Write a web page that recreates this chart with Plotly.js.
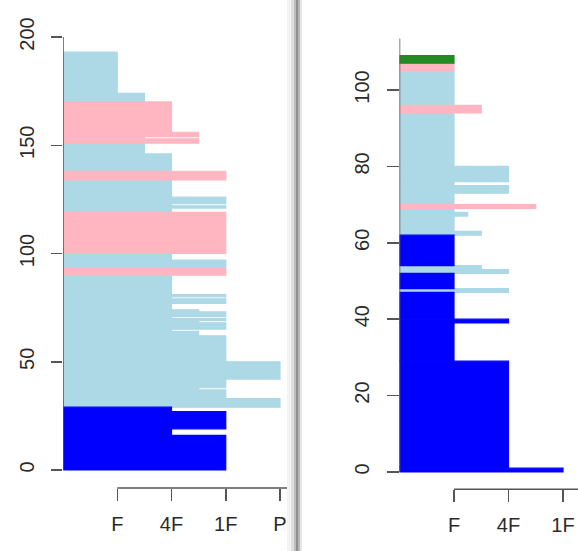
<!DOCTYPE html>
<html>
<head>
<meta charset="utf-8">
<script src="https://cdn.plot.ly/plotly-3.0.1.min.js"></script>
<style>html,body{margin:0;padding:0;background:#fff;}#chart{width:578px;height:551px;}</style>
</head>
<body>
<div id="chart"></div>
<script>
// ---- data: row blocks (lo..hi), level reached on the x scale, group ----
const leftLo    = [0,16,19,27,29,33,37,38,42,50,62,64,65,68,69,70,71,73,74,77,79,80,81,90,93,97,100,119,121,122,123,126,134,138,146,151,153,154,156,170,174];
const leftHi    = [16,19,27,29,33,37,38,42,50,62,64,65,68,69,70,71,73,74,77,79,80,81,90,93,97,100,119,121,122,123,126,134,138,146,151,153,154,156,170,174,193];
const leftLevel = [3,2,3,2,4,3,2.5,3,4,3,2.5,2,3,2.5,3,2,3,2.5,2,3,2,3,2,3,3,2,3,2,3,2,3,2,3,2,1.5,2.5,1.5,2.5,2,1.5,1];
const leftGroup = ['A','A','A','A','B','B','B','B','B','B','B','B','B','B','B','B','B','B','B','B','B','B','B','C','B','B','C','B','B','B','B','B','C','B','B','C','B','C','C','B','B'];

const rightLo    = [0,1,29,39,40,47,48,52,53,54,62,63,67,68,69,70,73,75,76,80,94,96,105,107];
const rightHi    = [1,29,39,40,47,48,52,53,54,62,63,67,68,69,70,73,75,76,80,94,96,105,107,109];
const rightLevel = [3,2,1,2,1,2,1,2,1.5,1,1.5,1,1.25,1,2.5,1,2,1,2,1,1.5,1,1,1];
const rightGroup = ['A','A','A','A','A','B','A','B','B','A','B','B','B','B','C','B','B','B','B','B','C','B','C','D'];

const leftXTickVals  = [1,2,3,4];
const leftXTickText  = ['F','4F','1F','P'];
const rightXTickVals = [1,2,3];
const rightXTickText = ['F','4F','1F'];
const leftYTicks  = [0,50,100,150,200];
const rightYTicks = [0,20,40,60,80,100];

// ---- styles ----
const groupColors = {A:'#0000FF', B:'#ADD8E6', C:'#FFB6C1', D:'#228B22'};
const W = 578, H = 551;
const px = x => x / W;
const py = y => 1 - y / H;

function buildTraces(lo, hi, level, group, xa, ya) {
  const out = [];
  ['B','A','C','D'].forEach(g => {
    const xs = [], ys = [], ws = [];
    for (let i = 0; i < lo.length; i++) {
      if (group[i] !== g) continue;
      xs.push(level[i]);
      ys.push((lo[i] + hi[i]) / 2);
      ws.push(hi[i] - lo[i]);
    }
    if (!xs.length) return;
    out.push({
      type: 'bar', orientation: 'h', x: xs, y: ys, width: ws, base: 0,
      xaxis: xa, yaxis: ya,
      marker: {color: groupColors[g], line: {width: 1.2, color: groupColors[g]}},
      hoverinfo: 'skip', showlegend: false
    });
  });
  return out;
}

const traces = [].concat(
  buildTraces(leftLo, leftHi, leftLevel, leftGroup, 'x', 'y'),
  buildTraces(rightLo, rightHi, rightLevel, rightGroup, 'x2', 'y2')
);

// pixel geometry
const L = {x0: 63, ux: 54.25, xEnd: 297, y0: 470, uy: 2.165, axisY: 488, top: 30};
const R = {x0: 399.5, ux: 54.5, xEnd: 578, y0: 472, uy: 3.82, axisY: 489.3, top: 30};

const tickFont = {family: 'Liberation Sans, Arial, sans-serif', size: 20, color: '#2a2a2a'};
const axCommon = {showgrid: false, zeroline: false, showline: false, ticks: 'outside',
  tickcolor: '#555', tickwidth: 1.5, tickfont: tickFont, fixedrange: true};

const layout = {
  width: W, height: H,
  margin: {l: 0, r: 0, t: 0, b: 0},
  paper_bgcolor: '#ffffff', plot_bgcolor: 'rgba(0,0,0,0)',
  barmode: 'overlay', showlegend: false,
  xaxis: Object.assign({}, axCommon, {
    domain: [px(L.x0), px(L.xEnd)], range: [0, (L.xEnd - L.x0) / L.ux], anchor: 'y',
    tickmode: 'array', tickvals: leftXTickVals, ticktext: leftXTickText, ticklen: 12, ticklabelstandoff: 6
  }),
  yaxis: Object.assign({}, axCommon, {
    domain: [py(L.axisY), py(L.top)], range: [(L.y0 - L.axisY) / L.uy, (L.y0 - L.top) / L.uy], anchor: 'x',
    tickmode: 'array', tickvals: leftYTicks, tickangle: -90, ticklen: 11, ticklabelstandoff: 9
  }),
  xaxis2: Object.assign({}, axCommon, {
    domain: [px(R.x0), 1], range: [0, (R.xEnd - R.x0) / R.ux], anchor: 'y2',
    tickmode: 'array', tickvals: rightXTickVals, ticktext: rightXTickText, ticklen: 12, ticklabelstandoff: 6
  }),
  yaxis2: Object.assign({}, axCommon, {
    domain: [py(R.axisY), py(R.top)], range: [(R.y0 - R.axisY) / R.uy, (R.y0 - R.top) / R.uy], anchor: 'x2',
    tickmode: 'array', tickvals: rightYTicks, tickangle: -90, ticklen: 12, ticklabelstandoff: 10
  }),
  shapes: [
    // axis lines (drawn from first tick like base R)
    {type: 'line', xref: 'x', yref: 'paper', x0: 1, x1: (L.xEnd - L.x0) / L.ux, y0: py(L.axisY), y1: py(L.axisY), line: {color: '#555', width: 1.5}},
    {type: 'line', xref: 'x', yref: 'y', x0: 0, x1: 0, y0: 0, y1: 200, line: {color: '#555', width: 1.5}},
    {type: 'line', xref: 'x2', yref: 'paper', x0: 1, x1: (R.xEnd - R.x0) / R.ux, y0: py(R.axisY), y1: py(R.axisY), line: {color: '#555', width: 1.5}},
    {type: 'line', xref: 'x2', yref: 'y2', x0: 0, x1: 0, y0: 0, y1: 113.5, line: {color: '#555', width: 1.5}},
    // separator shading between the two pictures
    {type: 'rect', xref: 'paper', yref: 'paper', x0: px(287), x1: px(291), y0: 0, y1: 1, line: {width: 0}, fillcolor: '#f3f3f3'},
    {type: 'rect', xref: 'paper', yref: 'paper', x0: px(291), x1: px(294), y0: 0, y1: 1, line: {width: 0}, fillcolor: '#dedede'},
    {type: 'rect', xref: 'paper', yref: 'paper', x0: px(294), x1: px(296), y0: 0, y1: 1, line: {width: 0}, fillcolor: '#bdbdbd'},
    {type: 'rect', xref: 'paper', yref: 'paper', x0: px(296), x1: px(298), y0: 0, y1: 1, line: {width: 0}, fillcolor: '#8f8f8f'},
    {type: 'rect', xref: 'paper', yref: 'paper', x0: px(298), x1: px(300), y0: 0, y1: 1, line: {width: 0}, fillcolor: '#b5b5b5'},
    {type: 'rect', xref: 'paper', yref: 'paper', x0: px(300), x1: px(302), y0: 0, y1: 1, line: {width: 0}, fillcolor: '#e6e6e6'}
  ]
};

Plotly.newPlot('chart', traces, layout, {staticPlot: true, displayModeBar: false});
</script>
</body>
</html>
